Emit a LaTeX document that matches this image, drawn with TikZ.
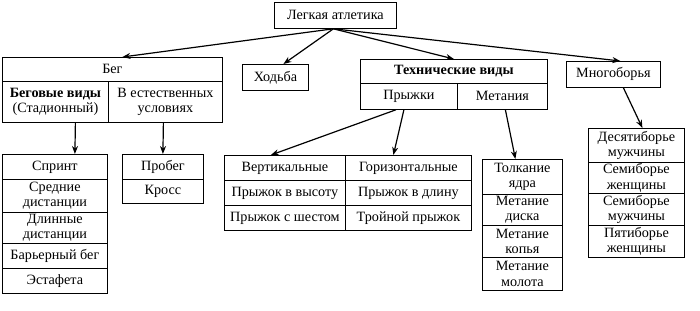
\documentclass[tikz,border=0pt]{standalone}
\usepackage{fontspec}
\setmainfont{Liberation Serif}
\usetikzlibrary{arrows.meta}
\begin{document}
\begin{tikzpicture}[x=1pt,y=-1pt,
  cell/.style={draw, line width=0.8pt, anchor=north west, inner sep=0pt, align=center,
    font=\fontsize{14.2}{15.5}\selectfont},
  arr/.style={line width=1.2pt, -{Stealth[length=8pt,width=6pt]}}]
\useasboundingbox (0,0) rectangle (700,310);
% top
\node[cell, minimum width=122pt, minimum height=26pt] (top) at (274,2) {Легкая атлетика};
% Бег
\node[cell, minimum width=220pt, minimum height=24pt] (beg) at (2,57) {Бег};
\node[cell, minimum width=106pt, minimum height=41pt] (bega) at (2,81) {\textbf{Беговые виды}\\(Стадионный)};
\node[cell, minimum width=114pt, minimum height=41pt] (begb) at (108,81) {В естественных\\условиях};
% Ходьба
\node[cell, minimum width=66pt, minimum height=26pt] (hod) at (242,64) {Ходьба};
% Технические
\node[cell, minimum width=187pt, minimum height=24pt] (tech) at (360,59) {\textbf{Технические виды}};
\node[cell, minimum width=97pt, minimum height=26pt] (jump) at (360,83) {Прыжки};
\node[cell, minimum width=90pt, minimum height=26pt] (throw) at (457,83) {Метания};
% Многоборья
\node[cell, minimum width=94pt, minimum height=26pt] (mnog) at (566,61) {Многоборья};
% sprint list
\node[cell, minimum width=105pt, minimum height=25pt] (s1) at (2,154) {Спринт};
\node[cell, minimum width=105pt, minimum height=33pt] (s2) at (2,179) {Средние\\дистанции};
\node[cell, minimum width=105pt, minimum height=31pt] (s3) at (2,212) {Длинные\\дистанции};
\node[cell, minimum width=105pt, minimum height=25pt] (s4) at (2,243) {Барьерный бег};
\node[cell, minimum width=105pt, minimum height=25pt] (s5) at (2,268) {Эстафета};
% Пробег
\node[cell, minimum width=81pt, minimum height=25pt] (p1) at (122,154) {Пробег};
\node[cell, minimum width=81pt, minimum height=24pt] (p2) at (122,179) {Кросс};
% jumps table
\node[cell, minimum width=121pt, minimum height=25pt] (j11) at (224,155) {Вертикальные};
\node[cell, minimum width=126pt, minimum height=25pt] (j12) at (345,155) {Горизонтальные};
\node[cell, minimum width=121pt, minimum height=25pt] (j21) at (224,180) {Прыжок в высоту};
\node[cell, minimum width=126pt, minimum height=25pt] (j22) at (345,180) {Прыжок в длину};
\node[cell, minimum width=121pt, minimum height=25pt] (j31) at (224,205) {Прыжок с шестом};
\node[cell, minimum width=126pt, minimum height=25pt] (j32) at (345,205) {Тройной прыжок};
% throws list
\node[cell, minimum width=80pt, minimum height=35pt] (m1) at (482,159) {Толкание\\ядра};
\node[cell, minimum width=80pt, minimum height=31pt] (m2) at (482,194) {Метание\\диска};
\node[cell, minimum width=80pt, minimum height=32pt] (m3) at (482,225) {Метание\\копья};
\node[cell, minimum width=80pt, minimum height=33pt] (m4) at (482,257) {Метание\\молота};
% multi list
\node[cell, minimum width=96pt, minimum height=34pt] (d1) at (588,128) {Десятиборье\\мужчины};
\node[cell, minimum width=96pt, minimum height=31pt] (d2) at (588,162) {Семиборье\\женщины};
\node[cell, minimum width=96pt, minimum height=32pt] (d3) at (588,193) {Семиборье\\мужчины};
\node[cell, minimum width=96pt, minimum height=32pt] (d4) at (588,225) {Пятиборье\\женщины};
% arrows
\draw[arr] ([xshift=-2pt]top.south) -- ([xshift=10pt]beg.north);
\draw[arr] ([xshift=-2pt]top.south) -- ([xshift=8pt]hod.north);
\draw[arr] ([xshift=-2pt]top.south) -- (tech.north);
\draw[arr] ([xshift=-2pt]top.south) -- ([xshift=7pt]mnog.north);
\draw[arr] ([xshift=20pt]bega.south) -- ([xshift=20pt]s1.north);
\draw[arr] ([xshift=-2pt]begb.south) -- (p1.north);
\draw[arr] ([xshift=-13pt]jump.south) -- ([xshift=-14pt]j11.north);
\draw[arr] ([xshift=-5pt]jump.south) -- ([xshift=-15pt]j12.north);
\draw[arr] ([xshift=3pt]throw.south) -- ([xshift=-7pt]m1.north);
\draw[arr] ([xshift=10pt]mnog.south) -- ([xshift=6pt]d1.north);
\end{tikzpicture}
\end{document}
